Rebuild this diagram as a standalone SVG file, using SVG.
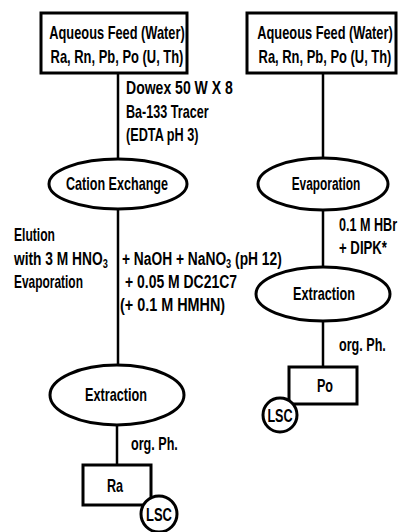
<svg xmlns="http://www.w3.org/2000/svg" width="403" height="532" viewBox="0 0 403 532">
<style>
text{font-family:"Liberation Sans","Arial",sans-serif;font-weight:bold;font-size:18px;fill:#000}
.m{text-anchor:middle}
.box{fill:#fff;stroke:#000;stroke-width:3}
.ell{fill:#fff;stroke:#000;stroke-width:3}
.ln{stroke:#000;stroke-width:2.5;fill:none}
.sub{font-size:12px}
</style>
<rect width="403" height="532" fill="#fff"/>
<g id="connectors">
<line class="ln" x1="118" y1="73" x2="118" y2="159"/>
<line class="ln" x1="118" y1="209" x2="118" y2="365"/>
<line class="ln" x1="117" y1="425" x2="117" y2="465"/>
<line class="ln" x1="323" y1="73" x2="323" y2="158"/>
<line class="ln" x1="323" y1="210" x2="323" y2="267"/>
<line class="ln" x1="323" y1="321" x2="323" y2="367"/>
<text transform="translate(126,94) scale(0.78,1)">Dowex 50 W X 8</text>
<text transform="translate(126,118) scale(0.70,1)">Ba-133 Tracer</text>
<text transform="translate(126,141) scale(0.705,1)">(EDTA pH 3)</text>
<text transform="translate(14,241) scale(0.672,1)">Elution</text>
<text transform="translate(14,265) scale(0.765,1)">with 3 M HNO<tspan class="sub" dy="3">3</tspan></text>
<text transform="translate(14,288) scale(0.663,1)">Evaporation</text>
<text transform="translate(122,265) scale(0.766,1)">+ NaOH + NaNO<tspan class="sub" dy="3">3</tspan><tspan dy="-3"> (pH 12)</tspan></text>
<text transform="translate(125,288) scale(0.775,1)">+ 0.05 M DC21C7</text>
<text transform="translate(120,311) scale(0.80,1)">(+ 0.1 M HMHN)</text>
<text transform="translate(339,231) scale(0.70,1)">0.1 M HBr</text>
<text transform="translate(339,254) scale(0.733,1)">+ DIPK*</text>
<text transform="translate(131,450) scale(0.70,1)">org. Ph.</text>
<text transform="translate(339,351) scale(0.70,1)">org. Ph.</text>
</g>
<g id="feed-left">
<rect class="box" x="41" y="13" width="146" height="60"/>
<text class="m" transform="translate(117,39) scale(0.712,1)">Aqueous Feed (Water)</text>
<text class="m" transform="translate(117,63) scale(0.719,1)">Ra, Rn, Pb, Po (U, Th)</text>
</g>
<g id="feed-right">
<rect class="box" x="247" y="13" width="149" height="60"/>
<text class="m" transform="translate(325,39) scale(0.712,1)">Aqueous Feed (Water)</text>
<text class="m" transform="translate(325,63) scale(0.719,1)">Ra, Rn, Pb, Po (U, Th)</text>
</g>
<g id="cation-exchange">
<ellipse class="ell" cx="118" cy="184" rx="69" ry="25"/>
<text class="m" transform="translate(117,190) scale(0.699,1)">Cation Exchange</text>
</g>
<g id="evaporation">
<ellipse class="ell" cx="323" cy="184" rx="65" ry="26"/>
<text class="m" transform="translate(326,190) scale(0.66,1)">Evaporation</text>
</g>
<g id="extraction-left">
<ellipse class="ell" cx="117" cy="395" rx="67" ry="30"/>
<text class="m" transform="translate(116,401) scale(0.704,1)">Extraction</text>
</g>
<g id="extraction-right">
<ellipse class="ell" cx="323" cy="294" rx="67" ry="27"/>
<text class="m" transform="translate(324,300) scale(0.704,1)">Extraction</text>
</g>
<g id="ra">
<rect class="box" x="83" y="465" width="68" height="40"/>
<text class="m" transform="translate(115,492) scale(0.7,1)">Ra</text>
</g>
<g id="lsc-ra">
<circle class="box" cx="159" cy="514" r="18"/>
<text class="m" transform="translate(159,521) scale(0.72,1)">LSC</text>
</g>
<g id="po">
<rect class="box" x="289" y="367" width="68" height="37"/>
<text class="m" transform="translate(325,392) scale(0.7,1)">Po</text>
</g>
<g id="lsc-po">
<circle class="box" cx="280" cy="415" r="17"/>
<text class="m" transform="translate(280,422) scale(0.7,1)">LSC</text>
</g>
</svg>
